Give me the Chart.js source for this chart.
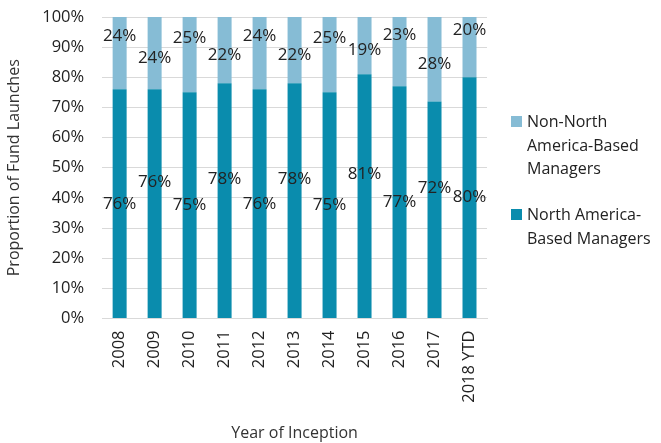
<!DOCTYPE html>
<html>
<head>
<meta charset="utf-8">
<script src="https://cdn.jsdelivr.net/npm/chart.js@4.4.0/dist/chart.umd.min.js"></script>
<style>
  body { margin: 0; background: #fff; }
  .wrap { position: relative; width: 661px; height: 443px; }
  canvas { display: block; }
  .leyenda { position: absolute; left: 511px; top: 0; font-family: "Open Sans", sans-serif; font-size: 16px; color: #222; line-height: 23.5px; }
  .leyenda .item { position: absolute; left: 0; width: 150px; padding-left: 16px; }
  .leyenda .cuadro { position: absolute; left: 0; top: 6px; width: 11px; height: 11px; }
</style>
</head>
<body>
<div class="wrap">
  <canvas id="grafico" width="661" height="443"></canvas>
  <div class="leyenda">
    <div class="item" style="top:110px"><span class="cuadro" style="background:#86bcd5"></span>Non-North America-Based Managers</div>
    <div class="item" style="top:203px"><span class="cuadro" style="background:#0a8cad"></span>North America-Based Managers</div>
  </div>
</div>
<script>
// Datos del gráfico
const anios = ['2008', '2009', '2010', '2011', '2012', '2013', '2014', '2015', '2016', '2017', '2018 YTD'];
const norteAmerica = [76, 76, 75, 78, 76, 78, 75, 81, 77, 72, 80];
const noNorteAmerica = [24, 24, 25, 22, 24, 22, 25, 19, 23, 28, 20];
const ticksY = [0, 10, 20, 30, 40, 50, 60, 70, 80, 90, 100];

const fuente = '"Open Sans", sans-serif';

// Etiquetas de porcentaje dentro de las barras
const etiquetas = {
  id: 'etiquetas',
  afterDatasetsDraw(chart) {
    const ctx = chart.ctx;
    ctx.save();
    ctx.font = '17px ' + fuente;
    ctx.fillStyle = '#222';
    ctx.textAlign = 'center';
    ctx.textBaseline = 'middle';
    chart.data.datasets.forEach((ds, d) => {
      const meta = chart.getDatasetMeta(d);
      meta.data.forEach((bar, i) => {
        let y = (bar.y + bar.base) / 2;
        if (d === 0 && i % 2 === 1) y -= 22;
        if (d === 1) y += (i % 2 === 0) ? -17 : 5;
        ctx.fillText(ds.data[i] + '%', bar.x, y);
      });
    });
    ctx.restore();
  }
};

const config = {
  type: 'bar',
  data: {
    labels: anios,
    datasets: [
      { label: 'North America-Based Managers', data: norteAmerica, backgroundColor: '#0a8cad', barPercentage: 0.4, categoryPercentage: 1 },
      { label: 'Non-North America-Based Managers', data: noNorteAmerica, backgroundColor: '#86bcd5', barPercentage: 0.4, categoryPercentage: 1 }
    ]
  },
  options: {
    responsive: false,
    animation: false,
    layout: { padding: { left: 5, right: 174, top: 17, bottom: 0 } },
    plugins: { legend: { display: false }, tooltip: { enabled: false } },
    scales: {
      x: {
        stacked: true,
        grid: { display: false, drawTicks: false },
        border: { color: '#d9d9d9' },
        ticks: { color: '#222', font: { family: fuente, size: 16.5 }, minRotation: 90, maxRotation: 90, padding: 12, autoSkip: false },
        title: { display: true, text: 'Year of Inception', color: '#333', font: { family: fuente, size: 16 }, padding: { top: 9, bottom: 0 } }
      },
      y: {
        stacked: true,
        min: 0,
        max: 100,
        afterBuildTicks(axis) { axis.ticks = ticksY.map(v => ({ value: v })); },
        afterFit(axis) { axis.paddingTop = 0; axis.paddingBottom = 0; },
        grid: { color: '#d9d9d9', drawTicks: false },
        border: { display: false },
        ticks: { color: '#222', font: { family: fuente, size: 16.5 }, padding: 18, callback: v => v + '%' },
        title: { display: true, text: 'Proportion of Fund Launches', color: '#333', font: { family: fuente, size: 16 }, padding: { top: 0, bottom: 0 } }
      }
    }
  },
  plugins: [etiquetas]
};

new Chart(document.getElementById('grafico'), config);
</script>
</body>
</html>
